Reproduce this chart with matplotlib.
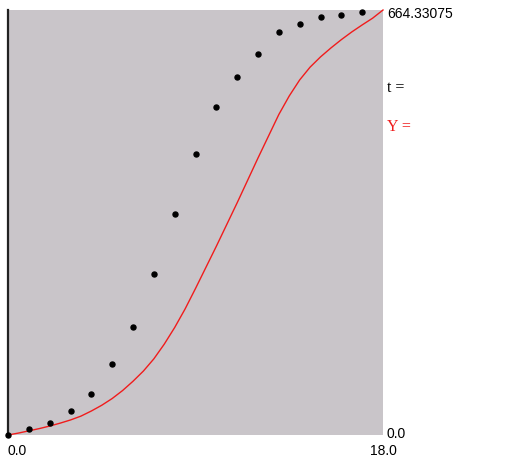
import matplotlib
matplotlib.use("Agg")
import matplotlib.pyplot as plt

# Data: observed points (t, value)
t_obs = list(range(18))
y_obs = [0, 8.6, 18.8, 37.6, 64.2, 111, 169, 251, 346, 439, 512, 559, 595, 630, 642, 653, 656, 661]

# Model curve Y(t), every 0.5 in t
t_curve = [0, 0.5, 1, 1.5, 2, 2.5, 3, 3.5, 4, 4.5, 5, 5.5, 6, 6.5, 7, 7.5, 8, 8.5, 9,
           9.5, 10, 10.5, 11, 11.5, 12, 12.5, 13, 13.5, 14, 14.5, 15, 15.5, 16, 16.5,
           17, 17.5, 18]
y_curve = [0, 3, 6.5, 10, 14, 18.5, 23.5, 29.5, 37.5, 46.5, 57, 69.5, 84, 100, 119, 142,
           168, 197, 229, 262, 295, 329, 363, 398, 433, 467, 501, 530, 555, 575, 591,
           605, 618, 630, 641, 651.5, 664.33075]

x_min, x_max = 0.0, 18.0
y_min, y_max = 0.0, 664.33075

num_font = 'Liberation Sans'
lbl_font = 'Liberation Serif'
red = '#f01c1c'

W, H = 532, 469
fig = plt.figure(figsize=(W / 100, H / 100), dpi=100)
fig.patch.set_facecolor('white')
ax = fig.add_axes([8 / W, 1 - 435 / H, 375 / W, 425 / H])
ax.set_facecolor('#c9c5c9')
ax.set_xlim(x_min, x_max)
ax.set_ylim(y_min, y_max)
for s in ['top', 'right', 'bottom']:
    ax.spines[s].set_visible(False)
ax.spines['left'].set_color('#222222')
ax.spines['left'].set_linewidth(1.6)
ax.set_xticks([])
ax.set_yticks([])

ax.plot(t_curve, y_curve, color=red, lw=1.0, clip_on=False, zorder=2)
ax.plot(t_obs, y_obs, linestyle='none', marker='o', markersize=3.6,
        color='black', clip_on=False, zorder=3)

def px(x, y, s, **kw):
    fig.text(x / W, 1 - y / H, s, **kw)

fs = 10
px(387, 14, '664.33075', family=num_font, fontsize=fs, va='center', ha='left', color='black')
px(387, 434, '0.0', family=num_font, fontsize=fs, va='center', ha='left', color='black')
px(7, 451, '0.0', family=num_font, fontsize=fs, va='center', ha='left', color='black')
px(383, 451, '18.0', family=num_font, fontsize=fs, va='center', ha='center', color='black')
px(387, 88, 't =', family=lbl_font, fontsize=11.5, va='center', ha='left', color='black')
px(387, 127, 'Y =', family=lbl_font, fontsize=11.5, va='center', ha='left', color=red)

fig.savefig('out.png', dpi=100, facecolor='white')
